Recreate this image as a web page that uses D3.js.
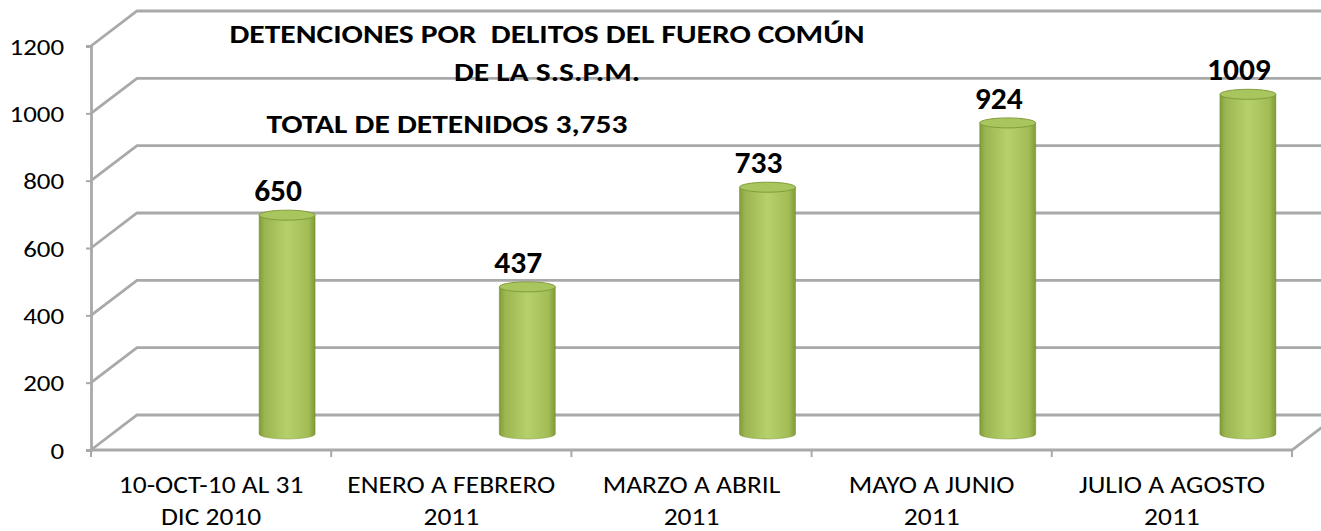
<!DOCTYPE html>
<html>
<head>
<meta charset="utf-8">
<script src="https://cdn.jsdelivr.net/npm/d3@7"></script>
<style>
  body { margin: 0; background: #fff; }
  svg { display: block; font-family: Calibri, Carlito, Lato, sans-serif; }
</style>
</head>
<body>
<div id="chart"></div>
<script>
const categories = [
    ['10-OCT-10 AL 31', 'DIC 2010'],
    ['ENERO A FEBRERO', '2011'],
    ['MARZO A ABRIL', '2011'],
    ['MAYO A JUNIO', '2011'],
    ['JULIO A AGOSTO', '2011']
];
const values = [650, 437, 733, 924, 1009];
const yTicks = [0, 200, 400, 600, 800, 1000, 1200];
const titleLines = ['DETENCIONES POR  DELITOS DEL FUERO COMÚN', 'DE LA S.S.P.M.'];
const subtitle = 'TOTAL DE DETENIDOS 3,753';

const width = 1321, height = 531;
const DX = 46, DY = -35;          // depth of the back wall
const BDX = 76, BDY = -16;        // where the cylinders stand on the floor
const SX = 1.17;                  // the source picture is a bit wider than the font

const svg = d3.select('#chart').append('svg')
    .attr('width', width)
    .attr('height', height);

const keys = categories.map((c, i) => i);
const x = d3.scaleBand().domain(keys).range([91, 1292]);
const y = d3.scaleLinear().domain([0, 1200]).range([450, 46]);

// gradient for the cylinders
const defs = svg.append('defs');
const grad = defs.append('linearGradient').attr('id', 'cyl').attr('x1', '0%').attr('x2', '100%');
grad.append('stop').attr('offset', '0%').attr('stop-color', '#809c3a');
grad.append('stop').attr('offset', '10%').attr('stop-color', '#9bb650');
grad.append('stop').attr('offset', '50%').attr('stop-color', '#b6d06c');
grad.append('stop').attr('offset', '88%').attr('stop-color', '#a2bd55');
grad.append('stop').attr('offset', '100%').attr('stop-color', '#7f9a38');

const lineColor = '#a9a9a9';

// gridlines on the wall, including the floor's back edge
const grid = svg.append('g').attr('class', 'grid');
yTicks.forEach(t => {
    const yy = y(t);
    grid.append('path')
        .attr('d', `M91,${yy}L${91 + DX},${yy + DY}L${width + 20},${yy + DY}`)
        .attr('fill', 'none')
        .attr('stroke', lineColor)
        .attr('stroke-width', 2.8);
});

// floor front edge and its right side
grid.append('path')
    .attr('d', `M91,${y(0)}L1292,${y(0)}L${1292 + DX},${y(0) + DY}`)
    .attr('fill', 'none')
    .attr('stroke', lineColor)
    .attr('stroke-width', 2.8);

// y axis
const yAxis = svg.append('g')
    .attr('transform', 'translate(91,0)')
    .call(d3.axisLeft(y).tickValues(yTicks).tickFormat(d3.format('d')).tickSize(5).tickPadding(18));
yAxis.select('.domain').attr('stroke', lineColor).attr('stroke-width', 2.8);
yAxis.selectAll('.tick line').attr('stroke', lineColor).attr('stroke-width', 2);
yAxis.selectAll('.tick text')
    .attr('font-size', 23)
    .attr('font-family', 'Calibri, Carlito, Lato, sans-serif')
    .attr('fill', '#000')
    .attr('dy', '0.36em')
    .attr('transform', `scale(${SX},1)`);

// x axis: tick marks on category edges, labels centred
const edges = keys.map(k => x(k)).concat([x.range()[1]]);
svg.append('g').selectAll('line')
    .data(edges)
    .join('line')
    .attr('x1', d => d).attr('x2', d => d)
    .attr('y1', y(0)).attr('y2', y(0) + 7)
    .attr('stroke', lineColor)
    .attr('stroke-width', 2);

const xLabels = svg.append('g').selectAll('text')
    .data(categories)
    .join('text')
    .attr('text-anchor', 'middle')
    .attr('font-size', 23.5)
    .attr('fill', '#000')
    .attr('transform', (d, i) => `translate(${x(i) + x.bandwidth() / 2},493) scale(${SX},1)`);
xLabels.selectAll('tspan')
    .data(d => d)
    .join('tspan')
    .attr('x', 0)
    .attr('y', (d, j) => j * 32)
    .text(d => d);

// cylinders
const r = 28, ry = 5;
const bars = svg.append('g').selectAll('g')
    .data(values)
    .join('g');

bars.append('path')
    .attr('d', (d, i) => {
        const cx = x(i) + x.bandwidth() / 2 + BDX;
        const top = y(d) + BDY, bot = y(0) + BDY;
        return `M${cx - r},${top}L${cx - r},${bot}A${r},${ry} 0 0 0 ${cx + r},${bot}L${cx + r},${top}Z`;
    })
    .attr('fill', 'url(#cyl)')
    .attr('stroke', '#6f8a2a')
    .attr('stroke-opacity', 0.45)
    .attr('stroke-width', 1);

bars.append('ellipse')
    .attr('cx', (d, i) => x(i) + x.bandwidth() / 2 + BDX)
    .attr('cy', d => y(d) + BDY)
    .attr('rx', r)
    .attr('ry', ry)
    .attr('fill', '#a9c55e')
    .attr('stroke', '#819d3b')
    .attr('stroke-width', 1);

// value labels
svg.append('g').selectAll('text')
    .data(values)
    .join('text')
    .attr('transform', (d, i) =>
        `translate(${x(i) + x.bandwidth() / 2 + BDX - 9},${y(d) + BDY - ry - 9}) scale(1.05,1)`)
    .attr('text-anchor', 'middle')
    .attr('font-size', 30)
    .attr('font-weight', 'bold')
    .attr('fill', '#000')
    .text(d => d);

// titles
svg.append('g').selectAll('text')
    .data(titleLines)
    .join('text')
    .attr('transform', (d, i) => `translate(547,${43 + i * 38}) scale(${SX + 0.02},1)`)
    .attr('text-anchor', 'middle')
    .attr('font-size', 26.5)
    .attr('font-weight', 'bold')
    .attr('fill', '#000')
    .style('white-space', 'pre')
    .text(d => d);

svg.append('text')
    .attr('transform', `translate(447,133) scale(${SX + 0.02},1)`)
    .attr('text-anchor', 'middle')
    .attr('font-size', 26.5)
    .attr('font-weight', 'bold')
    .attr('fill', '#000')
    .text(subtitle);
</script>
</body>
</html>
